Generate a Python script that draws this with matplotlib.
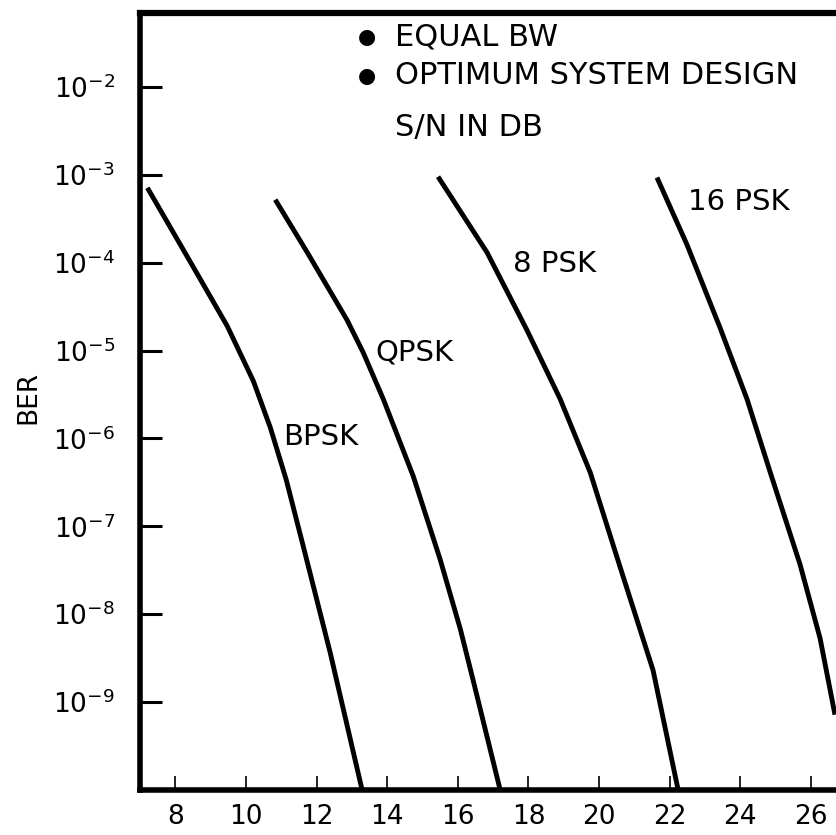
import matplotlib.pyplot as plt
from matplotlib.ticker import FixedLocator, NullLocator

# S/N (dB) vs BER
snr_bpsk = [7.21, 8.51, 9.47, 10.21, 10.69, 11.14, 11.62, 12.39, 13.29]
ber_bpsk = [7.1e-4, 8.9e-5, 1.9e-5, 4.5e-6, 1.33e-6, 3.4e-7, 6.0e-8, 3.6e-9, 1.0e-10]

snr_qpsk = [10.83, 11.74, 12.87, 13.32, 13.89, 14.74, 15.50, 16.07, 16.43, 17.20]
ber_qpsk = [5.2e-4, 1.3e-4, 2.2e-5, 9.5e-6, 2.8e-6, 3.7e-7, 4.2e-8, 6.8e-9, 1.8e-9, 1.0e-10]

snr_8psk = [15.44, 16.83, 17.96, 18.90, 19.75, 20.60, 21.53, 22.24]
ber_8psk = [9.5e-4, 1.3e-4, 1.7e-5, 2.8e-6, 4.1e-7, 3.4e-8, 2.3e-9, 1.0e-10]

snr_16psk = [21.64, 22.49, 23.43, 24.19, 24.84, 25.69, 26.26, 26.68]
ber_16psk = [9.3e-4, 1.6e-4, 1.8e-5, 2.8e-6, 4.2e-7, 3.7e-8, 5.3e-9, 7.2e-10]

x_ticks = [8, 10, 12, 14, 16, 18, 20, 22, 24, 26]
y_ticks = [1e-2, 1e-3, 1e-4, 1e-5, 1e-6, 1e-7, 1e-8, 1e-9]
y_tick_labels = [r"10$^{-%d}$" % n for n in range(2, 10)]

# curve name labels: (text, x, BER at text centre)
curve_labels = [
    ("BPSK", 11.06, 10 ** -5.98),
    ("QPSK", 13.66, 10 ** -5.02),
    ("8 PSK", 17.57, 10 ** -4.01),
    ("16 PSK", 22.52, 10 ** -3.31),
]


def main() -> int:
    fig = plt.figure(figsize=(8.36, 8.35), dpi=100)
    ax = fig.add_axes([140 / 836, 1 - 790 / 835, 696 / 836, 777 / 835])

    for xs, ys in [(snr_bpsk, ber_bpsk), (snr_qpsk, ber_qpsk),
                   (snr_8psk, ber_8psk), (snr_16psk, ber_16psk)]:
        ax.plot(xs, ys, color="black", linewidth=3.5, solid_capstyle="butt",
                solid_joinstyle="round")

    ax.set_yscale("log")
    ax.set_xlim(7.0, 26.71)
    ax.set_ylim(1e-10, 10 ** -1.16)

    ax.yaxis.set_major_locator(FixedLocator(y_ticks))
    ax.yaxis.set_minor_locator(NullLocator())
    ax.set_yticklabels(y_tick_labels)
    ax.set_xticks(x_ticks)
    ax.set_xticklabels([str(t) for t in x_ticks])

    ax.tick_params(axis="y", direction="in", length=16, width=2.2, pad=18,
                   labelsize=19)
    ax.tick_params(axis="x", direction="in", length=10, width=1.2, pad=10,
                   labelsize=19)

    ax.spines["right"].set_visible(False)
    ax.spines["top"].set_linewidth(4.5)
    ax.spines["left"].set_linewidth(4.0)
    ax.spines["bottom"].set_linewidth(4.0)

    for txt, x, y in curve_labels:
        ax.text(x, y, txt, fontsize=21, ha="left", va="center")

    # notes at top
    notes = [("EQUAL BW", 0.969, True), ("OPTIMUM SYSTEM DESIGN", 0.919, True),
             ("S/N IN DB", 0.852, False)]
    for txt, yf, bullet in notes:
        if bullet:
            ax.text(0.326, yf, "●", transform=ax.transAxes, fontsize=15,
                    ha="center", va="center")
        ax.text(0.366, yf, txt, transform=ax.transAxes, fontsize=22,
                ha="left", va="center")

    fig.text(28 / 836, 1 - 397 / 835, "BER", rotation=90, fontsize=19,
             ha="center", va="center")

    fig.savefig("out.png", dpi=100)
    return 0


if __name__ == "__main__":
    raise SystemExit(main())
